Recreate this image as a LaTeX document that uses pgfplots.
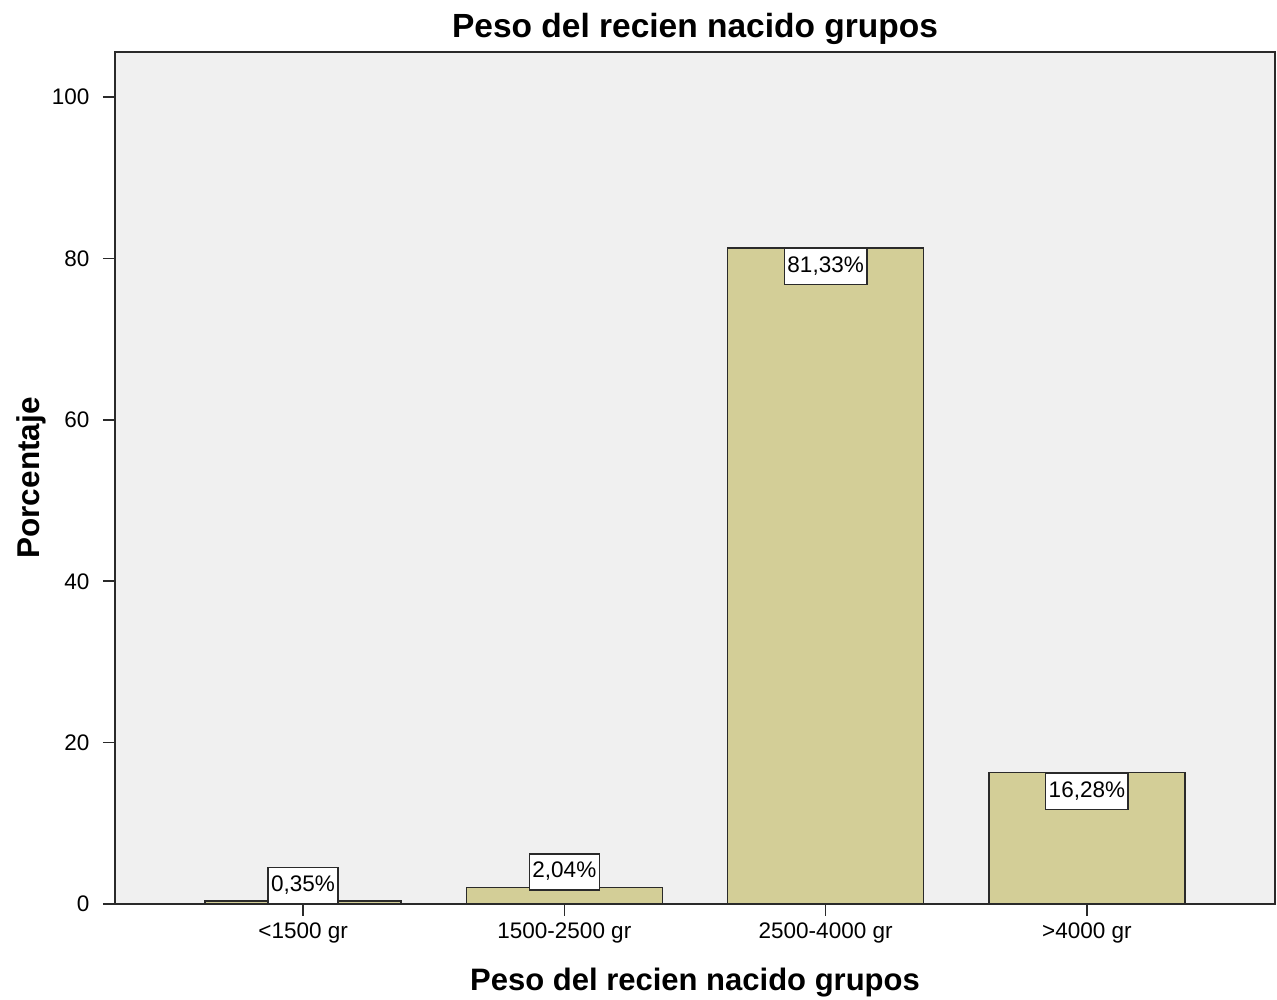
\documentclass[border=0pt]{standalone}
\usepackage{pgfplots}
\pgfplotsset{compat=1.18}
\usepackage{fontspec}
\setmainfont{Liberation Sans}
\definecolor{bgc}{HTML}{F0F0F0}
\definecolor{barc}{HTML}{D3CE97}
\definecolor{linec}{HTML}{2A2A2A}
\begin{document}
\begin{tikzpicture}
\begin{axis}[
  name=main,
  at={(0,0)}, anchor=south west,
  width=1160pt, height=852pt, scale only axis,
  xmin=-0.72, xmax=3.72, ymin=0, ymax=105.6,
  ybar, bar width=196pt,
  axis background/.style={fill=bgc},
  axis line style={linec, line width=1.6pt},
  every tick/.style={linec, line width=1.6pt},
  tick align=outside, major tick length=12pt,
  xtick pos=bottom, ytick pos=left,
  xtick={0,1,2,3},
  xticklabels={<1500 gr,1500-2500 gr,2500-4000 gr,>4000 gr},
  ytick={0,20,40,60,80,100},
  /pgf/number format/assume math mode=true,
  tick label style={font=\fontsize{22.5}{27}\selectfont, text=black},
  xticklabel style={yshift=-3pt},
  yticklabel style={xshift=-10pt},
  title={Peso del recien nacido grupos},
  title style={font=\bfseries\fontsize{33.5}{38}\selectfont, at={(axis description cs:0.5,1.020)}, anchor=center, yshift=0pt},
  xlabel={Peso del recien nacido grupos},
  xlabel style={font=\bfseries\fontsize{31}{36}\selectfont, at={(axis description cs:0.5,-0.0927)}, anchor=center},
  ylabel={Porcentaje},
  ylabel style={font=\bfseries\fontsize{31.5}{36}\selectfont, at={(axis description cs:-0.072,0.5)}, anchor=center},
  point meta=explicit symbolic,
  nodes near coords,
  every node near coord/.append style={draw=linec, fill=white, line width=1.5pt,
     font=\fontsize{22.5}{27}\selectfont, text=black, inner xsep=3pt, minimum height=36pt, text height=16pt, text depth=4pt},
]
\addplot[bar shift=0pt, fill=barc, draw=linec, line width=1.5pt,
  every node near coord/.append style={anchor=south, yshift=-3pt}]
  coordinates {(0,0.35) [0,35\%] (1,2.04) [2,04\%]};
\addplot[bar shift=0pt, fill=barc, draw=linec, line width=1.5pt,
  every node near coord/.append style={anchor=north, yshift=0pt}]
  coordinates {(2,81.33) [81,33\%] (3,16.28) [16,28\%]};
\end{axis}
\pgfresetboundingbox
\path[use as bounding box] (main.south west) ++(-115pt,-95pt) rectangle ++(1277pt,999pt);
\end{tikzpicture}
\end{document}
